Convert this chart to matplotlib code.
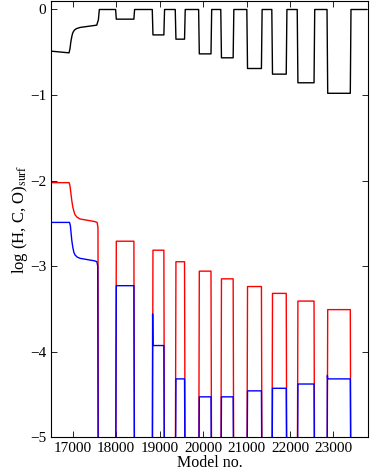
import numpy as np
import matplotlib
matplotlib.use("Agg")
import matplotlib.pyplot as plt

plt.rcParams['font.family'] = ['Liberation Serif', 'DejaVu Serif']
plt.rcParams['mathtext.fontset'] = 'stix'

# --- data ---
# smooth part before the first pulse
black_x0 = [16500, 16914, 16935, 16955, 16976, 16995, 17015, 17040, 17080, 17167, 17551, 17590, 17611]
black_y0 = [-0.487, -0.507, -0.46, -0.38, -0.32, -0.28, -0.258, -0.24, -0.225, -0.21, -0.183, -0.12, 0.0]
red_x0 = [16500, 16914, 16935, 16955, 16976, 17000, 17025, 17051, 17100, 17167, 17505, 17560, 17580, 17592]
red_y0 = [-2.025, -2.025, -2.06, -2.14, -2.23, -2.31, -2.36, -2.40, -2.43, -2.45, -2.48, -2.49, -2.55, -6.0]
blue_x0 = [16500, 16925, 16945, 16960, 16976, 17000, 17025, 17051, 17100, 17167, 17505, 17555, 17574, 17586]
blue_y0 = [-2.49, -2.49, -2.53, -2.61, -2.695, -2.78, -2.84, -2.87, -2.895, -2.91, -2.94, -2.95, -3.0, -6.0]

# pulses (model ranges) and levels reached in each
pulse_start = [17994, 18838, 19367, 19905, 20415, 21015, 21590, 22175, 22861]
pulse_end = [18415, 19105, 19581, 20190, 20700, 21351, 21922, 22562, 23397]
black_level = [-0.113, -0.297, -0.347, -0.519, -0.565, -0.69, -0.756, -0.857, -0.98]
red_level = [-2.71, -2.815, -2.95, -3.06, -3.15, -3.24, -3.32, -3.41, -3.51]
blue_level = [-3.23, -3.93, -4.32, -4.53, -4.53, -4.46, -4.43, -4.38, -4.32]
blue_spike = [np.nan, -3.56, np.nan, np.nan, np.nan, np.nan, np.nan, np.nan, -4.28]
model_end = 23760


def pulses(x0, y0, base, levels, spikes=None, w=8):
    xs, ys = list(x0), list(y0)
    for i, (s, e, lv) in enumerate(zip(pulse_start, pulse_end, levels)):
        xs += [s - w]
        ys += [base]
        if spikes is not None and not np.isnan(spikes[i]):
            xs += [s]
            ys += [spikes[i]]
        xs += [s + w, e - w, e + w]
        ys += [lv, lv, base]
    xs.append(model_end)
    ys.append(base)
    return xs, ys


bx, by = pulses(black_x0, black_y0, 0.0, black_level)
rx, ry = pulses(red_x0, red_y0, -6.0, red_level)
ux, uy = pulses(blue_x0, blue_y0, -6.0, blue_level, blue_spike)

fig = plt.figure(figsize=(3.70, 4.74), dpi=100)
ax = fig.add_axes([0.138, 0.078, 0.857, 0.920])

ax.plot(bx, by, color='black', lw=1.0)
ax.plot(rx, ry, color='#ff0000', lw=1.0)
ax.plot(ux, uy, color='#0000ff', lw=1.0)

ax.set_xlim(16500, 23800)
ax.set_ylim(-5, 0.1)
ax.set_xticks([17000, 18000, 19000, 20000, 21000, 22000, 23000])
ax.set_yticks([-5, -4, -3, -2, -1, 0])
ax.tick_params(direction='in', top=True, right=True, labelsize=11, length=4, width=0.6)
for sp in ax.spines.values():
    sp.set_linewidth(0.8)

ax.set_xlabel('Model no.', fontsize=11.5, labelpad=0)
ax.set_ylabel('log (H, C, O)$_\\mathrm{surf}$', fontsize=12, labelpad=0)

fig.savefig('out.png', dpi=100)
